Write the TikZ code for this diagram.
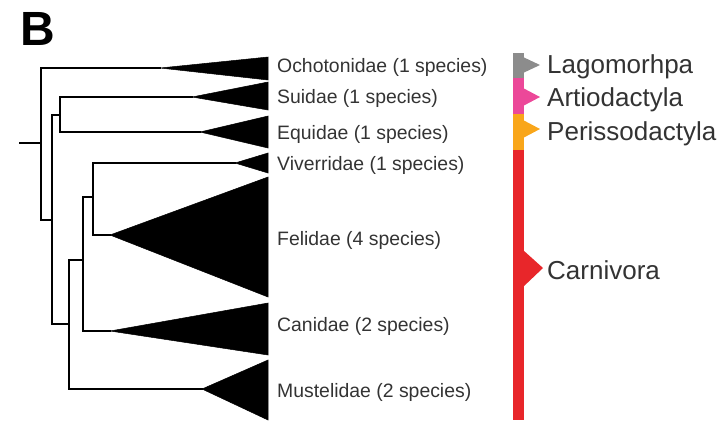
\documentclass[tikz,border=0pt]{standalone}
\usepackage{fontspec}
\setmainfont{Liberation Sans}
\begin{document}
\begin{tikzpicture}[x=1bp,y=-1bp,
  branch/.style={line width=1.6bp,black,line cap=rect},
  clade/.style={fill=black,draw=black,line width=0.5bp},
  taxon/.style={anchor=west,inner sep=0pt,text=black!80,font=\fontsize{19.4bp}{22bp}\selectfont},
  order/.style={anchor=west,inner sep=0pt,text=black!80,font=\fontsize{26bp}{30bp}\selectfont},
  bar/.style={draw=none}]
\useasboundingbox (0,0) rectangle (723,423);
\definecolor{ograycol}{HTML}{8C8C8C}
\definecolor{opinkcol}{HTML}{EC4899}
\definecolor{oorangecol}{HTML}{F9A61A}
\definecolor{oredcol}{HTML}{E8262A}
% panel letter
\node[anchor=base west,inner sep=0pt,font=\fontsize{48bp}{50bp}\selectfont\bfseries] (lbl) at (20,45) {B};
% tree coordinates
\coordinate (stub) at (20,143);
\coordinate (r) at (41,143);
\coordinate (rtop) at (41,68);
\coordinate (rbot) at (41,220);
\coordinate (a) at (52,220);
\coordinate (atop) at (52,115);
\coordinate (abot) at (52,324);
\coordinate (se) at (60,115);
\coordinate (setop) at (60,97);
\coordinate (sebot) at (60,132);
\coordinate (c) at (69,324);
\coordinate (ctop) at (69,260);
\coordinate (cbot) at (69,389);
\coordinate (d) at (83,260);
\coordinate (dtop) at (83,197);
\coordinate (dbot) at (83,331);
\coordinate (f) at (93,197);
\coordinate (ftop) at (93,163);
\coordinate (fbot) at (93,235);
% tips of clade triangles
\coordinate (tO) at (160,68);
\coordinate (tS) at (192,97);
\coordinate (tE) at (200,132);
\coordinate (tV) at (235,163);
\coordinate (tF) at (110,235);
\coordinate (tC) at (110,331);
\coordinate (tM) at (202,389);
% branches
\draw[branch] (stub) -- (r);
\draw[branch] (rtop) -- (rbot);
\draw[branch] (rtop) -- (tO);
\draw[branch] (rbot) -- (a);
\draw[branch] (atop) -- (abot);
\draw[branch] (atop) -- (se);
\draw[branch] (setop) -- (sebot);
\draw[branch] (setop) -- (tS);
\draw[branch] (sebot) -- (tE);
\draw[branch] (abot) -- (c);
\draw[branch] (ctop) -- (cbot);
\draw[branch] (cbot) -- (tM);
\draw[branch] (ctop) -- (d);
\draw[branch] (dtop) -- (dbot);
\draw[branch] (dbot) -- (tC);
\draw[branch] (dtop) -- (f);
\draw[branch] (ftop) -- (fbot);
\draw[branch] (ftop) -- (tV);
\draw[branch] (fbot) -- (tF);
% clade triangles
\fill[clade] (tO) -- (268,57) -- (268,80) -- cycle;
\fill[clade] (tS) -- (268,82) -- (268,110) -- cycle;
\fill[clade] (tE) -- (268,116) -- (268,148) -- cycle;
\fill[clade] (tV) -- (268,153) -- (268,173) -- cycle;
\fill[clade] (tF) -- (268,177) -- (268,297) -- cycle;
\fill[clade] (tC) -- (268,303) -- (268,355) -- cycle;
\fill[clade] (tM) -- (268,360) -- (268,420) -- cycle;
% taxon labels
\node[taxon] (nO) at (277,67) {Ochotonidae (1 species)};
\node[taxon] (nS) at (277,98) {Suidae (1 species)};
\node[taxon] (nE) at (277,134) {Equidae (1 species)};
\node[taxon] (nV) at (277,165) {Viverridae (1 species)};
\node[taxon] (nF) at (277,240) {Felidae (4 species)};
\node[taxon] (nC) at (277,326) {Canidae (2 species)};
\node[taxon] (nM) at (277,392) {Mustelidae (2 species)};
% order bar
\fill[ograycol] (513,53) rectangle (524,78);
\fill[opinkcol] (513,78) rectangle (524,114);
\fill[oorangecol] (513,114) rectangle (524,150);
\fill[oredcol] (513,150) rectangle (524,420);
\fill[ograycol] (523,57) -- (540,65) -- (523,73) -- cycle;
\fill[opinkcol] (523,88) -- (540,97) -- (523,106) -- cycle;
\fill[oorangecol] (523,120) -- (540,129) -- (523,138) -- cycle;
\fill[oredcol] (523,250) -- (543,268) -- (523,287) -- cycle;
% order labels
\node[order] (oL) at (547,67) {Lagomorhpa};
\node[order] (oA) at (547,100) {Artiodactyla};
\node[order] (oP) at (547,134) {Perissodactyla};
\node[order] (oC) at (547,270) {Carnivora};
\end{tikzpicture}
\end{document}
